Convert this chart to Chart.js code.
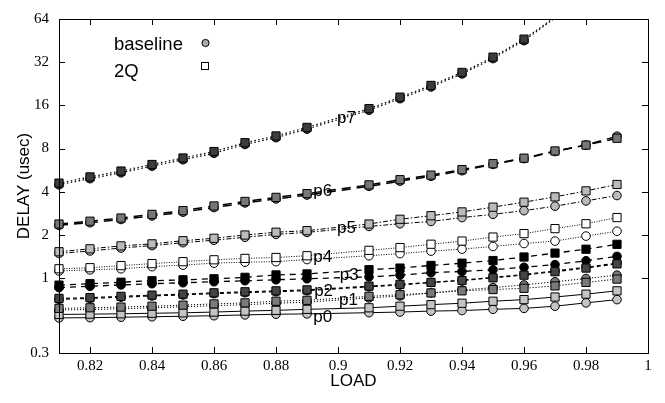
<!DOCTYPE html>
<html>
<head>
<meta charset="utf-8">
<script src="https://cdn.jsdelivr.net/npm/chart.js@4"></script>
<style>
  html, body { margin: 0; padding: 0; background: #fff; }
  #wrap { width: 665px; height: 403px; }
</style>
</head>
<body>
<div id="wrap"><canvas id="delayChart" width="665" height="403"></canvas></div>
<script>
// load points (0.90 is where the pN labels sit, no point there)
const loads = [0.81, 0.82, 0.83, 0.84, 0.85, 0.86, 0.87, 0.88, 0.89, 0.91, 0.92, 0.93, 0.94, 0.95, 0.96, 0.97, 0.98, 0.99];
const xTicks = [0.82, 0.84, 0.86, 0.88, 0.9, 0.92, 0.94, 0.96, 0.98, 1];
const yTicks = [0.3, 1, 2, 4, 8, 16, 32, 64];

// delay in usec, 2Q (squares) and baseline (circles)
const p7_2q   = [4.59, 5.07, 5.57, 6.19, 6.87, 7.62, 8.78, 9.79, 11.23, 15.19, 18.25, 22.03, 27.14, 34.7, 46.3, 66];
const p7_base = [4.47, 4.93, 5.42, 6.02, 6.68, 7.41, 8.54, 9.52, 10.92, 14.8, 17.8, 21.5, 26.5, 33.9, 45.2, 65];
const p6_2q   = [2.38, 2.49, 2.62, 2.78, 2.95, 3.18, 3.42, 3.65, 3.88, 4.46, 4.85, 5.22, 5.70, 6.27, 6.85, 7.69, 8.45, 9.43];
const p6_base = [2.33, 2.43, 2.56, 2.71, 2.88, 3.10, 3.34, 3.56, 3.79, 4.36, 4.74, 5.12, 5.60, 6.20, 6.80, 7.62, 8.45, 9.75];
const p5_2q   = [1.525, 1.598, 1.675, 1.731, 1.82, 1.893, 1.994, 2.086, 2.139, 2.38, 2.57, 2.72, 2.89, 3.12, 3.38, 3.68, 4.05, 4.49];
const p5_base = [1.485, 1.544, 1.619, 1.683, 1.764, 1.835, 1.923, 2.016, 2.08, 2.29, 2.39, 2.48, 2.64, 2.78, 2.95, 3.17, 3.45, 3.76];
const p4_2q   = [1.16, 1.18, 1.22, 1.26, 1.30, 1.34, 1.37, 1.39, 1.43, 1.56, 1.63, 1.72, 1.81, 1.93, 2.04, 2.21, 2.39, 2.64];
const p4_base = [1.12, 1.14, 1.16, 1.20, 1.23, 1.27, 1.29, 1.30, 1.345, 1.43, 1.48, 1.54, 1.59, 1.66, 1.74, 1.81, 1.96, 2.12];
const p3_2q   = [0.892, 0.913, 0.935, 0.957, 0.972, 0.988, 1.011, 1.051, 1.068, 1.143, 1.173, 1.224, 1.269, 1.324, 1.401, 1.492, 1.588, 1.718];
const p3_base = [0.857, 0.875, 0.895, 0.913, 0.927, 0.942, 0.957, 0.972, 0.988, 1.019, 1.047, 1.09, 1.111, 1.143, 1.188, 1.24, 1.32, 1.416];
const p2_2q   = [0.721, 0.73, 0.745, 0.76, 0.772, 0.789, 0.802, 0.814, 0.827, 0.878, 0.903, 0.932, 0.961, 1.003, 1.047, 1.107, 1.173, 1.255];
const p2_base = [0.71, 0.72, 0.735, 0.75, 0.762, 0.778, 0.79, 0.803, 0.816, 0.868, 0.893, 0.93, 0.965, 1.01, 1.06, 1.12, 1.19, 1.27];
const p1_2q   = [0.614, 0.62, 0.627, 0.636, 0.647, 0.66, 0.671, 0.689, 0.699, 0.745, 0.765, 0.787, 0.814, 0.831, 0.848, 0.881, 0.932, 0.983];
const p1_base = [0.598, 0.603, 0.61, 0.62, 0.63, 0.641, 0.652, 0.667, 0.678, 0.727, 0.75, 0.787, 0.825, 0.857, 0.895, 0.942, 0.992, 1.047];
const p0_2q   = [0.557, 0.56, 0.563, 0.568, 0.572, 0.579, 0.588, 0.595, 0.605, 0.62, 0.636, 0.652, 0.667, 0.689, 0.707, 0.737, 0.772, 0.814];
const p0_base = [0.527, 0.529, 0.533, 0.537, 0.541, 0.546, 0.553, 0.559, 0.562, 0.573, 0.579, 0.588, 0.593, 0.605, 0.614, 0.636, 0.671, 0.707];

// series labels, anchored in data units
const seriesNames = ['p0', 'p1', 'p2', 'p3', 'p4', 'p5', 'p6', 'p7'];
const labelLoads  = [0.892, 0.9003, 0.8923, 0.9006, 0.892, 0.8997, 0.892, 0.8997];
const labelDelays = [0.536, 0.699, 0.806, 1.051, 1.394, 2.23, 4.05, 12.93];

const series = [
    { name: 'p7', q: p7_2q, b: p7_base, fill: '#3c3c3c', dash: [1.5, 2.5], width: 1.2 },
    { name: 'p6', q: p6_2q, b: p6_base, fill: '#777777', dash: [9, 6], width: 1.5 },
    { name: 'p5', q: p5_2q, b: p5_base, fill: '#bbbbbb', dash: [5, 2, 1.5, 2], width: 1 },
    { name: 'p4', q: p4_2q, b: p4_base, fill: '#ffffff', dash: [1, 1.5], width: 1 },
    { name: 'p3', q: p3_2q, b: p3_base, fill: '#000000', dash: [6, 5], width: 1.3 },
    { name: 'p2', q: p2_2q, b: p2_base, fill: '#444444', dash: [4, 3], width: 1.1 },
    { name: 'p1', q: p1_2q, b: p1_base, fill: '#7a7a7a', dash: [1.2, 1.8], width: 1 },
    { name: 'p0', q: p0_2q, b: p0_base, fill: '#c4c4c4', dash: [], width: 1 }
];

function toPoints(vals) {
    return vals.map((v, i) => ({ x: loads[i], y: v }));
}

const hideAbove = r => ctx => (ctx.raw && ctx.raw.y > 64 ? 0 : r);

const datasets = [];
series.forEach(s => {
    datasets.push({
        label: s.name + ' 2Q', data: toPoints(s.q), order: 0,
        borderColor: '#000', borderWidth: s.width, borderDash: s.dash,
        pointStyle: 'rect', pointRadius: hideAbove(5.8), pointBackgroundColor: s.fill,
        pointBorderColor: '#000', pointBorderWidth: 1, fill: false, tension: 0,
        clip: { left: 10, top: 0, right: 10, bottom: 10 }
    });
    datasets.push({
        label: s.name + ' baseline', data: toPoints(s.b), order: 1,
        borderColor: '#000', borderWidth: s.width, borderDash: s.dash,
        pointStyle: 'circle', pointRadius: hideAbove(4.3), pointBackgroundColor: s.fill,
        pointBorderColor: '#000', pointBorderWidth: 1, fill: false, tension: 0,
        clip: { left: 10, top: 0, right: 10, bottom: 10 }
    });
});

// frame, inward ticks, pN labels and the little legend
const decor = {
    id: 'decor',
    afterDatasetsDraw(chart) {
        const { ctx, chartArea: a, scales: { x, y } } = chart;
        ctx.save();
        ctx.strokeStyle = '#000';
        ctx.lineWidth = 1;
        ctx.beginPath();
        xTicks.forEach(v => {
            if (v >= 1) return;
            const px = Math.round(x.getPixelForValue(v)) + 0.5;
            ctx.moveTo(px, a.bottom); ctx.lineTo(px, a.bottom - 6);
            ctx.moveTo(px, a.top); ctx.lineTo(px, a.top + 6);
        });
        yTicks.forEach(v => {
            if (v <= 0.3 || v >= 64) return;
            const py = Math.round(y.getPixelForValue(v)) + 0.5;
            ctx.moveTo(a.left, py); ctx.lineTo(a.left + 6, py);
            ctx.moveTo(a.right, py); ctx.lineTo(a.right - 6, py);
        });
        ctx.stroke();
        ctx.strokeRect(Math.round(a.left) + 0.5, Math.round(a.top) + 0.5,
            Math.round(a.right - a.left), Math.round(a.bottom - a.top));

        ctx.fillStyle = '#000';
        ctx.font = '17px "Liberation Sans", Arial, sans-serif';
        ctx.textAlign = 'left';
        ctx.textBaseline = 'middle';
        seriesNames.forEach((n, i) => {
            ctx.fillText(n, x.getPixelForValue(labelLoads[i]), y.getPixelForValue(labelDelays[i]));
        });

        ctx.font = '18.5px "Liberation Sans", Arial, sans-serif';
        ctx.textBaseline = 'alphabetic';
        ctx.fillText('baseline', 114, 50);
        ctx.fillText('2Q', 114, 77);
        ctx.beginPath();
        ctx.arc(205.5, 43, 3.6, 0, Math.PI * 2);
        ctx.fillStyle = '#aaaaaa';
        ctx.fill();
        ctx.stroke();
        ctx.fillStyle = '#fff';
        ctx.fillRect(201.5, 62.5, 7, 7);
        ctx.strokeRect(201.5, 62.5, 7, 7);
        ctx.restore();
    }
};

new Chart(document.getElementById('delayChart'), {
    type: 'line',
    data: { datasets },
    options: {
        responsive: false,
        animation: false,
        layout: { padding: { left: 0, top: 11, right: 17, bottom: 0 } },
        plugins: { legend: { display: false }, tooltip: { enabled: false } },
        scales: {
            x: {
                type: 'linear', min: 0.81, max: 1,
                afterBuildTicks: s => { s.ticks = xTicks.map(v => ({ value: v })); },
                afterFit: s => { s.height = 50; },
                grid: { display: false, drawTicks: false },
                border: { display: false },
                ticks: {
                    autoSkip: false, maxRotation: 0, padding: 4, color: '#000',
                    font: { family: '"Liberation Serif", "Times New Roman", serif', size: 15 },
                    callback: v => String(+v.toFixed(2))
                },
                title: {
                    display: true, text: 'LOAD', color: '#000',
                    font: { family: '"Liberation Sans", Arial, sans-serif', size: 17 },
                    padding: { top: 0, bottom: 11 }
                }
            },
            y: {
                type: 'logarithmic', min: 0.3, max: 64,
                afterBuildTicks: s => { s.ticks = yTicks.map(v => ({ value: v })); },
                afterFit: s => { s.width = 59; },
                grid: { display: false, drawTicks: false },
                border: { display: false },
                ticks: {
                    autoSkip: false, padding: 10, color: '#000',
                    font: { family: '"Liberation Serif", "Times New Roman", serif', size: 15 },
                    callback: v => String(v)
                },
                title: {
                    display: true, text: 'DELAY (usec)', color: '#000',
                    font: { family: '"Liberation Sans", Arial, sans-serif', size: 17 },
                    padding: { top: 14, bottom: 0 }
                }
            }
        }
    },
    plugins: [decor]
});
</script>
</body>
</html>
